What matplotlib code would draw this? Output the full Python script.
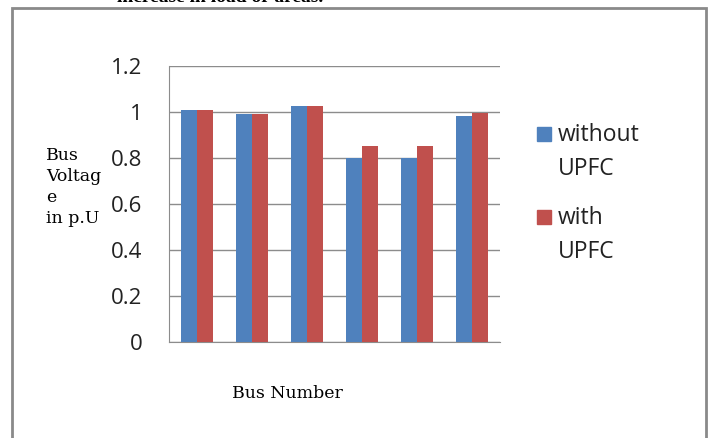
import numpy as np
import matplotlib.pyplot as plt
from matplotlib.patches import Rectangle

buses = ["1", "2", "3", "4", "5", "6"]
without_upfc = [1.007, 0.99, 1.025, 0.80, 0.80, 0.981]
with_upfc = [1.007, 0.99, 1.025, 0.854, 0.854, 0.997]
series_names = [("without", "UPFC"), ("with", "UPFC")]
yticks = [0, 0.2, 0.4, 0.6, 0.8, 1.0, 1.2]
ytick_labels = ["0", "0.2", "0.4", "0.6", "0.8", "1", "1.2"]

blue = "#4F81BD"
red = "#C0504D"
grey = "#8C8C8C"

W, H = 712, 438
fig = plt.figure(figsize=(W / 100, H / 100), dpi=100)
ax = fig.add_axes([169 / W, 1 - 342 / H, (500 - 169) / W, (342 - 66) / H])

x = np.arange(len(buses))
w = 0.29
ax.bar(x - w / 2, without_upfc, w, color=blue, zorder=3)
ax.bar(x + w / 2, with_upfc, w, color=red, zorder=3)

ax.set_xlim(-0.5, len(buses) - 0.5)
ax.set_ylim(0, 1.2)
ax.set_yticks(yticks)
ax.set_yticklabels(ytick_labels, fontsize=16, family="Open Sans", color="#222222")
ax.set_xticks([])
ax.tick_params(axis="y", length=0, pad=19)
ax.grid(axis="y", color=grey, linewidth=1, zorder=0)
for side in ["top", "right"]:
    ax.spines[side].set_visible(False)
for side in ["left", "bottom"]:
    ax.spines[side].set_color(grey)

fig.text(46 / W, 1 - 147 / H, "Bus\nVoltag\ne\nin p.U", family="DejaVu Serif",
         fontsize=12.5, va="top", ha="left", linespacing=1.32)
fig.text(287 / W, 1 - 394 / H, "Bus Number", family="DejaVu Serif",
         fontsize=12.5, ha="center", va="center")

# legend: square swatch beside first line, name wraps onto a second line
for (line1, line2), color, top in zip(series_names, [blue, red], [127, 210]):
    fig.patches.append(Rectangle((537 / W, 1 - (top + 14) / H), 14 / W, 14 / H,
                                 transform=fig.transFigure, color=color))
    fig.text(558 / W, 1 - (top + 8) / H, line1, family="Open Sans", fontsize=16.5,
             color="#222222", va="center", ha="left")
    fig.text(558 / W, 1 - (top + 42) / H, line2, family="Open Sans", fontsize=16.5,
             color="#222222", va="center", ha="left")

# outer frame around the chart
fig.patches.append(Rectangle((12 / W, -0.05), (706 - 12) / W, 1.05 - 8 / H,
                             transform=fig.transFigure, fill=False,
                             edgecolor="#8A8A8A", linewidth=2))

# caption line running off the top edge
fig.text(220 / W, 1 - 2 / H, "increase in load or areas.", family="Liberation Serif",
         fontsize=14, fontweight="bold", ha="center", va="baseline")

fig.savefig("out.png", dpi=100)
